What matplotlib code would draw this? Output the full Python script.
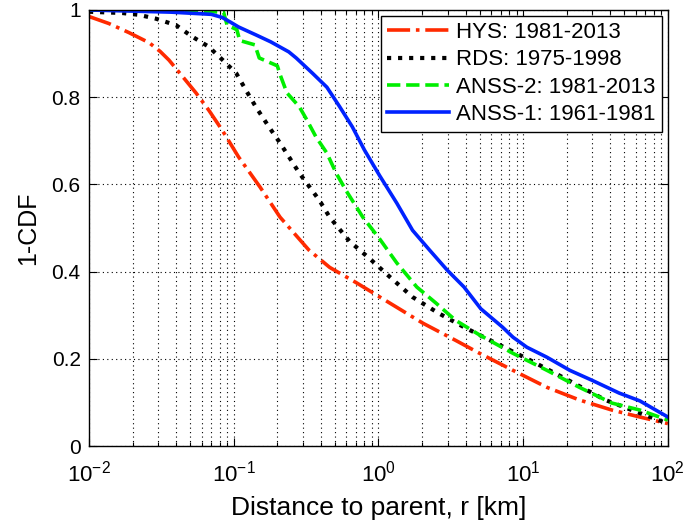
import matplotlib
matplotlib.use("Agg")
import matplotlib.pyplot as plt
from matplotlib.ticker import LogLocator

plt.rcParams["font.family"] = ["Liberation Sans", "DejaVu Sans"]
plt.rcParams["mathtext.default"] = "regular"

# HYS: 1981-2013
hys_r = [0.01, 0.0137, 0.0189, 0.026, 0.031, 0.0357, 0.0439, 0.0548, 0.0673,
         0.083, 0.108, 0.152, 0.209, 0.33, 0.46, 0.71, 1.2, 2.03, 3.4, 5.0,
         8.5, 14.6, 24.5, 41, 64, 100]
hys_p = [0.985, 0.969, 0.948, 0.925, 0.905, 0.885, 0.849, 0.81, 0.77,
         0.725, 0.663, 0.594, 0.525, 0.45, 0.41, 0.374, 0.328, 0.282, 0.243,
         0.213, 0.174, 0.135, 0.106, 0.083, 0.067, 0.052]

# RDS: 1975-1998
rds_r = [0.01, 0.017, 0.022, 0.029, 0.04, 0.051, 0.067, 0.084, 0.104, 0.121,
         0.142, 0.175, 0.209, 0.284, 0.39, 0.46, 0.63, 0.87, 1.2, 1.72, 2.6,
         3.9, 5.9, 11.2, 18.8, 37, 64, 100]
rds_p = [0.996, 0.993, 0.989, 0.98, 0.965, 0.94, 0.916, 0.885, 0.855, 0.817,
         0.778, 0.732, 0.695, 0.626, 0.564, 0.525, 0.47, 0.43, 0.388, 0.342,
         0.305, 0.273, 0.243, 0.197, 0.158, 0.106, 0.076, 0.052]

# ANSS-2: 1981-2013
anss2_r = [0.01, 0.05, 0.085, 0.09, 0.105, 0.11, 0.14, 0.15, 0.2, 0.21, 0.233,
           0.284, 0.32, 0.37, 0.44, 0.51, 0.60, 0.78, 1.02, 1.34, 1.84, 2.5,
           3.4, 5.0, 8.5, 14.6, 24.5, 41, 64, 100]
anss2_p = [1.0, 0.998, 0.995, 0.965, 0.955, 0.93, 0.92, 0.89, 0.872, 0.85,
           0.81, 0.778, 0.748, 0.709, 0.672, 0.626, 0.585, 0.525, 0.475, 0.42,
           0.365, 0.328, 0.289, 0.255, 0.213, 0.174, 0.135, 0.099, 0.083, 0.06]

# ANSS-1: 1961-1981
anss1_r = [0.01, 0.037, 0.07, 0.083, 0.095, 0.108, 0.142, 0.18, 0.24, 0.27,
           0.35, 0.44, 0.54, 0.66, 0.8, 1.02, 1.34, 1.72, 2.25, 2.98, 3.9,
           5.1, 7.2, 8.5, 10.6, 14.6, 21, 30, 46, 64, 100]
anss1_p = [1.0, 0.995, 0.99, 0.983, 0.972, 0.961, 0.943, 0.927, 0.904, 0.89,
           0.855, 0.823, 0.778, 0.732, 0.679, 0.62, 0.557, 0.495, 0.45, 0.404,
           0.365, 0.315, 0.273, 0.25, 0.227, 0.204, 0.174, 0.151, 0.122, 0.104,
           0.067]

fig = plt.figure(figsize=(6.85, 5.25), dpi=100)
ax = fig.add_axes([0.130, 0.150, 0.845, 0.831])

lw = 2.6
ax.plot(hys_r, hys_p, linestyle="-.", color="#ff2a00", lw=lw, label="HYS: 1981-2013")
ax.plot(rds_r, rds_p, linestyle=":", color="black", lw=lw + 0.4, label="RDS: 1975-1998")
ax.plot(anss2_r, anss2_p, linestyle="--", color="#00ee00", lw=lw, label="ANSS-2: 1981-2013")
ax.plot(anss1_r, anss1_p, linestyle="-", color="#0022ff", lw=lw, label="ANSS-1: 1961-1981")

ax.set_xscale("log")
ax.set_xlim(0.01, 100)
ax.set_ylim(0, 1)
ax.set_yticks([0, 0.2, 0.4, 0.6, 0.8, 1.0])
ax.set_yticklabels(["0", "0.2", "0.4", "0.6", "0.8", "1"])
ax.xaxis.set_major_locator(LogLocator(base=10, numticks=10))
ax.xaxis.set_minor_locator(LogLocator(base=10, subs=range(2, 10), numticks=20))

ax.grid(True, which="both", axis="x", color="black", linestyle=(0, (1, 3)), lw=0.8)
ax.grid(True, which="major", axis="y", color="black", linestyle=(0, (1, 3)), lw=0.8)

ax.tick_params(which="both", direction="in", top=True, right=True)
ax.tick_params(which="major", length=6, width=0.8)
ax.tick_params(which="minor", length=3, width=0.8)
ax.tick_params(axis="x", labelsize=16, pad=10)
ax.tick_params(axis="y", labelsize=15, pad=6)
for s in ax.spines.values():
    s.set_linewidth(1.0)

ax.set_xlabel("Distance to parent, r [km]", fontsize=19, labelpad=7)
ax.set_ylabel("1-CDF", fontsize=18, labelpad=8)

leg = ax.legend(loc="upper right", fontsize=16, frameon=True, fancybox=False,
                edgecolor="black", framealpha=1, handlelength=2.8,
                borderaxespad=0.25, labelspacing=0.28, handletextpad=0.3,
                borderpad=0.3)
leg.get_frame().set_linewidth(1.0)

fig.savefig("out.png", dpi=100)
